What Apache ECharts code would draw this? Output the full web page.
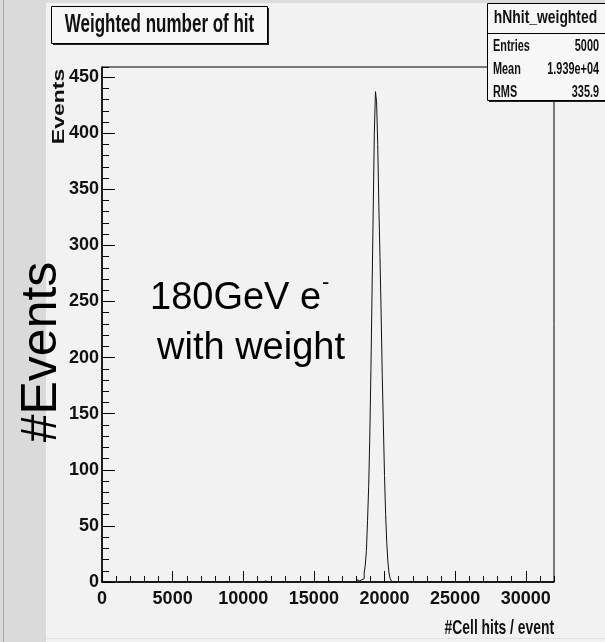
<!DOCTYPE html>
<html>
<head>
<meta charset="utf-8">
<script src="https://cdn.jsdelivr.net/npm/echarts@6/dist/echarts.min.js"></script>
<style>
  html, body { margin: 0; padding: 0; background: #f2f2f2; }
  #main { width: 605px; height: 642px; }
</style>
</head>
<body>
<div id="main"></div>
<script>
// hNhit_weighted : 400 bins of 80 over 0 .. 32000
const binWidth = 80;
const nBins = 400;
const xMin = 0;
const xMax = 32000;
const yMax = 459;

// non-empty bins (bin centre, content)
const binCenters = [
  11560, 16040, 16600, 16920, 17400, 18040, 18120, 18200, 18280, 18360, 18440,
  18520, 18600, 18680, 18760, 18840, 18920, 19000, 19080, 19160, 19240, 19320,
  19400, 19480, 19560, 19640, 19720, 19800, 19880, 19960, 20040, 20120, 20200,
  20280, 20360, 20440, 20520, 20680
];
const binCounts = [
  1, 1, 1, 1, 1, 1, 2, 1, 2, 2, 3,
  3, 8, 15, 28, 55, 85, 130, 190, 260, 330, 400,
  437, 428, 390, 335, 290, 240, 185, 140, 95, 60, 35,
  18, 8, 3, 1, 1
];

const statNames = ["Entries", "Mean", "RMS"];
const statValues = ["5000", "1.939e+04", "335.9"];

// fill the full histogram, empty bins stay at 0
const contents = new Array(nBins).fill(0);
binCenters.forEach((c, i) => {
  contents[Math.floor(c / binWidth)] = binCounts[i];
});
const histData = contents.map((v, i) => [(i + 0.5) * binWidth, v]);

const boldFont = '"Liberation Sans", Arial, sans-serif';

const myChart = echarts.init(document.getElementById("main"));

// stats box texts
const statGraphics = [];
statNames.forEach((name, i) => {
  const y = 47 + i * 23;
  statGraphics.push({
    type: "text", x: 493, y: y, scaleX: 0.68,
    style: { text: name, font: "bold 16px " + boldFont, fill: "#111", align: "left", verticalAlign: "middle" }
  });
  statGraphics.push({
    type: "text", x: 599, y: y, scaleX: 0.68,
    style: { text: statValues[i], font: "bold 16px " + boldFont, fill: "#111", align: "right", verticalAlign: "middle" }
  });
});

const option = {
  backgroundColor: "#f2f2f2",
  animation: false,
  grid: {
    left: 102, right: 51, top: 67, bottom: 60,
    show: true, borderColor: "#000", borderWidth: 1, backgroundColor: "transparent"
  },
  xAxis: [
    {
      type: "value", min: xMin, max: xMax, interval: 5000,
      axisLine: { show: true, lineStyle: { color: "#000", width: 1.5 } },
      axisTick: { show: true, inside: true, length: 11, lineStyle: { color: "#000" } },
      splitLine: { show: false },
      axisLabel: {
        margin: 8, showMaxLabel: false, color: "#111",
        fontFamily: boldFont, fontWeight: "bold", fontSize: 18,
        formatter: (v) => String(v)
      }
    },
    {
      // minor ticks
      type: "value", min: xMin, max: xMax, interval: 1000, position: "bottom",
      axisLine: { show: false },
      axisTick: { show: true, inside: true, length: 6, lineStyle: { color: "#000" } },
      axisLabel: { show: false }, splitLine: { show: false }
    }
  ],
  yAxis: [
    {
      type: "value", min: 0, max: yMax, interval: 50,
      axisLine: { show: true, lineStyle: { color: "#000", width: 1.5 } },
      axisTick: { show: true, inside: true, length: 13, lineStyle: { color: "#000" } },
      splitLine: { show: false },
      axisLabel: {
        margin: 3, showMaxLabel: false, color: "#111",
        fontFamily: boldFont, fontWeight: "bold", fontSize: 18,
        formatter: (v) => String(v)
      }
    },
    {
      type: "value", min: 0, max: yMax, interval: 10, position: "left",
      axisLine: { show: false },
      axisTick: { show: true, inside: true, length: 7, lineStyle: { color: "#000" } },
      axisLabel: { show: false }, splitLine: { show: false }
    }
  ],
  series: [
    {
      name: "hNhit_weighted",
      type: "line",
      step: "middle",
      data: histData,
      showSymbol: false,
      symbol: "none",
      lineStyle: { color: "#111", width: 1 },
      z: 3
    }
  ],
  graphic: [
    // left strip of the canvas
    { type: "rect", shape: { x: 0, y: 0, width: 46, height: 642 }, style: { fill: "#dadada" } },
    { type: "line", shape: { x1: 3.5, y1: 0, x2: 3.5, y2: 642 }, style: { stroke: "#a8a8a8", lineWidth: 1 } },
    { type: "rect", shape: { x: 46, y: 0, width: 559, height: 3 }, style: { fill: "#dcdcdc" } },
    { type: "line", shape: { x1: 46, y1: 638.5, x2: 605, y2: 638.5 }, style: { stroke: "#e2e2e2", lineWidth: 1 } },

    // title box
    { type: "rect", shape: { x: 53, y: 8, width: 216, height: 37 }, style: { fill: "#222" } },
    { type: "rect", shape: { x: 51.5, y: 6.5, width: 216, height: 37 }, style: { fill: "#f7f7f7", stroke: "#000", lineWidth: 1 } },
    {
      type: "text", x: 159.5, y: 25.5, scaleX: 0.68,
      style: { text: "Weighted number of hit", font: "bold 25px " + boldFont, fill: "#111", align: "center", verticalAlign: "middle" }
    },

    // stats box
    { type: "rect", shape: { x: 489, y: 5, width: 118, height: 97 }, style: { fill: "#222" } },
    { type: "rect", shape: { x: 487.5, y: 3.5, width: 118, height: 97 }, style: { fill: "#f7f7f7", stroke: "#000", lineWidth: 1 } },
    { type: "line", shape: { x1: 487.5, y1: 33.5, x2: 605, y2: 33.5 }, style: { stroke: "#000", lineWidth: 1 } },
    {
      type: "text", x: 545.5, y: 18, scaleX: 0.73,
      style: { text: "hNhit_weighted", font: "bold 19px " + boldFont, fill: "#111", align: "center", verticalAlign: "middle" }
    },
    ...statGraphics,

    // axis titles
    {
      type: "text", x: 60, y: 106.5, rotation: Math.PI / 2, scaleY: 0.68,
      style: { text: "Events", font: "bold 23px " + boldFont, fill: "#111", align: "center", verticalAlign: "middle" }
    },
    {
      type: "text", x: 554, y: 628, scaleX: 0.66,
      style: { text: "#Cell hits / event", font: "bold 21px " + boldFont, fill: "#111", align: "right", verticalAlign: "middle" }
    },

    // annotations
    {
      type: "text", x: 42, y: 352, rotation: Math.PI / 2,
      style: { text: "#Events", font: "50px " + boldFont, fill: "#000", align: "center", verticalAlign: "middle" }
    },
    {
      type: "text", x: 150, y: 299,
      style: { text: "180GeV e", font: "38px " + boldFont, fill: "#000", align: "left", verticalAlign: "middle" }
    },
    {
      type: "text", x: 322, y: 283,
      style: { text: "-", font: "22px " + boldFont, fill: "#000", align: "left", verticalAlign: "middle" }
    },
    {
      type: "text", x: 157, y: 349,
      style: { text: "with weight", font: "38px " + boldFont, fill: "#000", align: "left", verticalAlign: "middle" }
    }
  ]
};

myChart.setOption(option);
</script>
</body>
</html>
